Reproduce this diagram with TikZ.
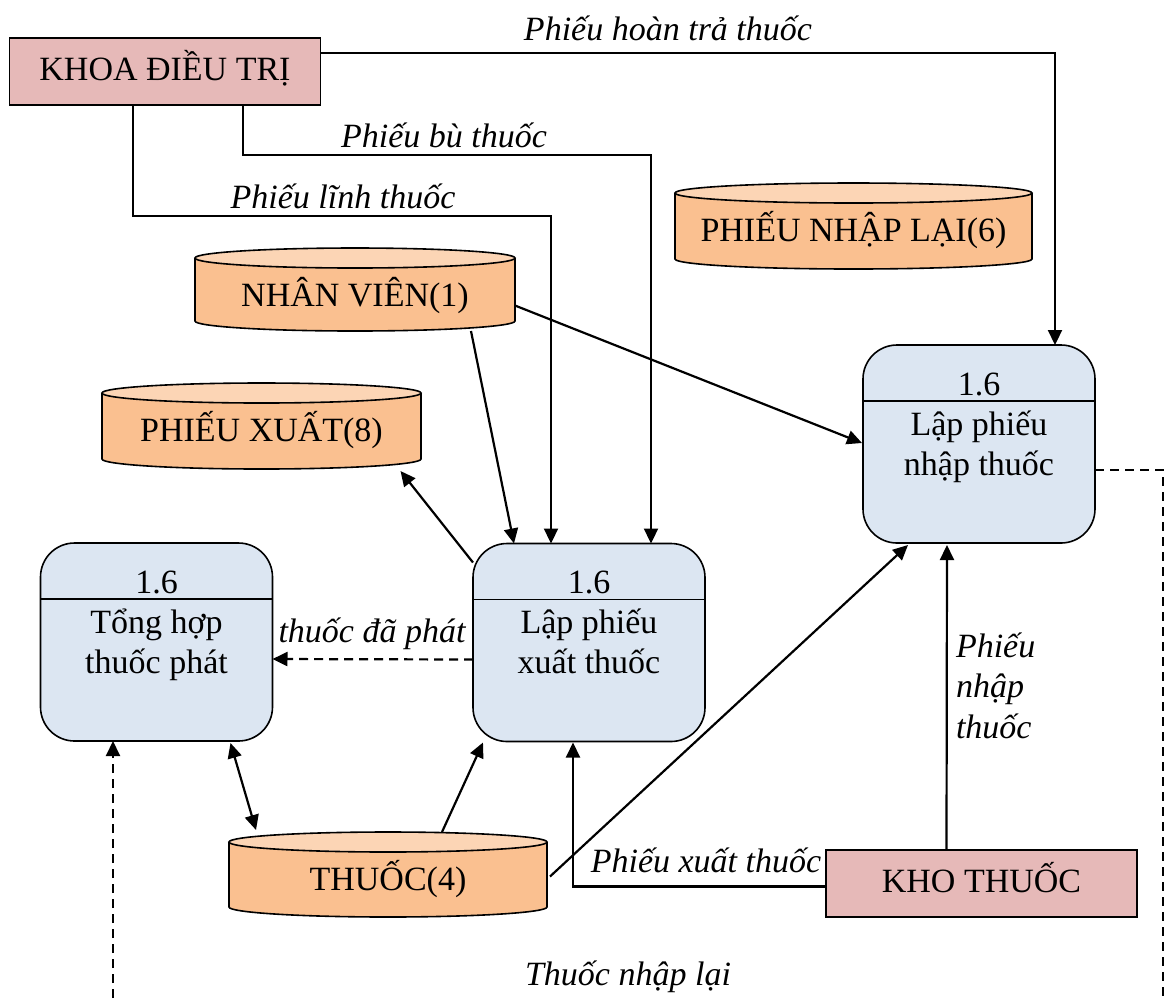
\documentclass[tikz,border=0pt]{standalone}
\usepackage{fontspec}
\setmainfont{Liberation Serif}
\usetikzlibrary{calc,arrows.meta}

\definecolor{extpink}{HTML}{E6B9B8}
\definecolor{procblue}{HTML}{DCE6F2}
\definecolor{storebody}{HTML}{FAC090}
\definecolor{storetop}{HTML}{FCD5B5}

\tikzset{
  every node/.style={font=\fontsize{17}{20}\selectfont, inner sep=0pt, outer sep=0pt},
  extbox/.style={rectangle, draw, line width=0.8pt, fill=extpink,
                 minimum width=155.5pt, minimum height=33.5pt},
  procbox/.style={rectangle, rounded corners=17pt, draw, line width=0.8pt,
                  fill=procblue, minimum width=116pt, minimum height=99pt},
  flow/.style={line width=1.1pt, -{Triangle[length=7.5pt,width=7pt]}},
  dflow/.style={flow, dash pattern=on 4.5pt off 3pt},
  dline/.style={line width=1.1pt, dash pattern=on 4.5pt off 3pt},
  biflow/.style={line width=1.1pt,
                 {Triangle[length=7.5pt,width=7pt]}-{Triangle[length=7.5pt,width=7pt]}},
  lbl/.style={anchor=base, font=\fontsize{17}{20}\selectfont\itshape},
  lblw/.style={anchor=base west, font=\fontsize{17}{20}\selectfont\itshape},
  txt/.style={anchor=base},
}

% data store: name, centre, width (pt), height (pt), text
\newcommand{\dfdstore}[5]{%
  \node[rectangle, minimum width=#3pt, minimum height=#4pt] (#1) at #2 {};
  \pgfmathsetmacro{\storerx}{#3/2}
  \fill[storebody] ([yshift=-5pt]#1.north west) -- ([yshift=5pt]#1.south west)
    arc[start angle=180, end angle=360, x radius=\storerx pt, y radius=5pt]
    -- ([yshift=-5pt]#1.north east)
    arc[start angle=0, end angle=180, x radius=\storerx pt, y radius=5pt] -- cycle;
  \draw[line width=0.8pt] ([yshift=-5pt]#1.north west) -- ([yshift=5pt]#1.south west)
    arc[start angle=180, end angle=360, x radius=\storerx pt, y radius=5pt]
    -- ([yshift=-5pt]#1.north east);
  \draw[line width=0.8pt, fill=storetop] ([yshift=-5pt]#1.north)
    ellipse[x radius=\storerx pt, y radius=5pt];
  \node[txt] (#1-label) at ($(#1.north)+(0,-58)$) {#5};
}

% process: name, centre, number, first line, second line
\newcommand{\dfdprocess}[5]{%
  \node[procbox] (#1) at #2 {};
  \draw[line width=0.8pt] ($(#1.north west)+(0,-56)$) -- ($(#1.north east)+(0,-56)$);
  \node[txt] (#1-num) at ($(#1.north)+(0,-50)$) {#3};
  \node[txt] (#1-l1) at ($(#1.north)+(0,-90)$) {#4};
  \node[txt] (#1-l2) at ($(#1.north)+(0,-130)$) {#5};
}

\begin{document}
\begin{tikzpicture}[x=0.5pt, y=0.5pt]
\useasboundingbox (0,0) rectangle (1168,-998);

% external entities
\node[extbox] (kdt) at (165,-71.5) {};
\node[txt] (kdt-label) at (165,-80) {KHOA ĐIỀU TRỊ};
\node[extbox] (kho) at (981.5,-883.5) {};
\node[txt] (kho-label) at (981.5,-892) {KHO THUỐC};

% data stores
\dfdstore{nv}{(355,-289.5)}{160}{41.5}{NHÂN VIÊN(1)}
\dfdstore{pnl}{(853.5,-226)}{178.5}{43}{PHIẾU NHẬP LẠI(6)}
\dfdstore{pxs}{(261.5,-426)}{159.5}{43}{PHIẾU XUẤT(8)}
\dfdstore{th}{(388,-874.5)}{159}{42.5}{THUỐC(4)}

% processes
\dfdprocess{tong}{(156.5,-642)}{1.6}{Tổng hợp}{thuốc phát}
\dfdprocess{xuat}{(589,-642.5)}{1.6}{Lập phiếu}{xuất thuốc}
\dfdprocess{nhap}{(979,-444)}{1.6}{Lập phiếu}{nhập thuốc}

% free ends of the return loop
\coordinate (loopR) at (1163,-998);
\coordinate (loopL) at (113,-998);

% flows from KHOA ĐIỀU TRỊ
\draw[flow] ($(kdt.north east)+(0,-15)$) -| ($(nhap.north)+(76,0)$);
\node[lbl] (l-hoan) at (668,-40) {Phiếu hoàn trả thuốc};
\draw[flow] ($(kdt.south)+(78,0)$) -- ++(0,-50) -| ($(xuat.north)+(62,0)$);
\node[lbl] (l-bu) at (444,-147) {Phiếu bù thuốc};
\draw[flow] ($(kdt.south)+(-32,0)$) -- ++(0,-111) -| ($(xuat.north)+(-38,0)$);
\node[lbl] (l-linh) at (343,-208) {Phiếu lĩnh thuốc};

% flows from NHÂN VIÊN
\draw[flow] ($(nv.south)+(116,0)$) -- ($(xuat.north)+(-75,0)$);
\draw[flow] ($(nv.east)+(0,-16)$) -- ($(nhap.west)+(-1,1)$);

% flows around Lập phiếu xuất thuốc
\draw[flow] ($(xuat.north west)+(0,-19)$) -- ($(pxs.south)+(139,-2)$);
\draw[dflow] ($(xuat.west)+(0,-17)$) -- ($(tong.east)+(0,-17)$);
\node[lbl] (l-daphat) at (372,-642) {thuốc đã phát};
\draw[biflow] ($(tong.south)+(74,-2)$) -- ($(th.north)+(-132,2)$);
\draw[flow] ($(th.north)+(54,0)$) -- ($(xuat.south)+(-106,-1)$);
\draw[flow] ($(th.east)+(3,-2)$) -- ($(nhap.south)+(-71,-2)$);

% flows from KHO THUỐC
\draw[flow] ($(kho.west)+(0,-3)$) -| ($(xuat.south)+(-16,-1)$);
\node[lbl] (l-pxt) at (706,-872) {Phiếu xuất thuốc};
\draw[flow] ($(kho.north)+(-35,0)$) -- ($(nhap.south)+(-32,-2)$);
\node[lblw] (l-pn1) at (956,-657) {Phiếu};
\node[lblw] (l-pn2) at (956,-697) {nhập};
\node[lblw] (l-pn3) at (956,-738) {thuốc};

% return loop
\draw[dline] ($(nhap.east)+(0,-26)$) -| (loopR);
\draw[dflow] (loopL) -- (loopL |- tong.south);
\node[lbl] (l-nhaplai) at (628,-985) {Thuốc nhập lại};
\end{tikzpicture}
\end{document}
